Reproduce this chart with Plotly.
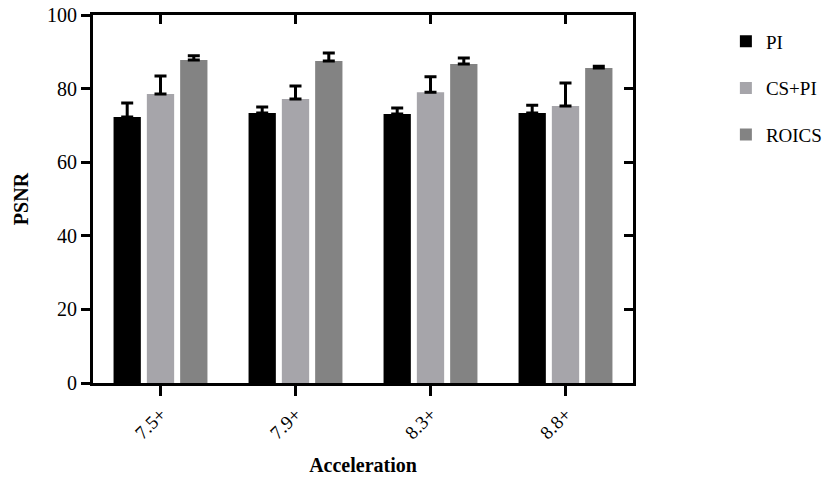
import plotly.graph_objects as go

categories = ["7.5+", "7.9+", "8.3+", "8.8+"]
series_names = ["PI", "CS+PI", "ROICS"]
pi_vals = [72.3, 73.4, 73.1, 73.4]
pi_err = [3.8, 1.6, 1.6, 2.1]
cspi_vals = [78.5, 77.2, 79.0, 75.3]
cspi_err = [4.9, 3.5, 4.2, 6.2]
roics_vals = [87.8, 87.5, 86.7, 85.6]
roics_err = [1.1, 2.2, 1.6, 0.5]
y_ticks = [0, 20, 40, 60, 80, 100]

colors = ["#000000", "#a6a5aa", "#838383"]
FONT = "Liberation Serif"

fig = go.Figure()
for name, vals, err, col in zip(series_names, [pi_vals, cspi_vals, roics_vals],
                                [pi_err, cspi_err, roics_err], colors):
    fig.add_trace(go.Bar(
        x=categories, y=vals, name=name, marker=dict(color=col, line=dict(width=0)),
        legendgroup=name,
        error_y=dict(type="data", array=err, arrayminus=[0] * len(err), symmetric=False,
                     color="black", thickness=3, width=6),
    ))

# invisible trace for the framing axes (top/right inside ticks)
fig.add_trace(go.Scatter(x=categories, y=pi_vals, xaxis="x2", yaxis="y2", mode="markers",
                         marker=dict(opacity=0), showlegend=False, hoverinfo="skip"))

fig.update_layout(
    width=827, height=485,
    margin=dict(l=93, r=194, t=15, b=102, autoexpand=False),
    paper_bgcolor="white", plot_bgcolor="white",
    barmode="group", bargap=0.26, bargroupgap=0.18,
    font=dict(family=FONT, color="black", size=19),
    showlegend=True,
    legend=dict(x=1.172, y=0.98, xanchor="left", yanchor="top",
                font=dict(family=FONT, size=19), tracegroupgap=19,
                bgcolor="rgba(0,0,0,0)"),
    xaxis=dict(type="category", range=[-0.5, 3.5], showline=True, linewidth=3, linecolor="black",
               ticks="outside", ticklen=10, tickwidth=3, tickcolor="black", tickangle=-45,
               tickfont=dict(family=FONT, size=19), showgrid=False, zeroline=False,
               automargin=False,
               title=dict(text="<b>Acceleration</b>", font=dict(family=FONT, size=20), standoff=16)),
    yaxis=dict(range=[0, 100], tickvals=y_ticks, showline=True, linewidth=3, linecolor="black",
               ticks="outside", ticklen=9, tickwidth=3, tickcolor="black",
               tickfont=dict(family=FONT, size=20), showgrid=False, zeroline=False,
               automargin=False,
               title=dict(text="<b>PSNR</b>", font=dict(family=FONT, size=20), standoff=14)),
    xaxis2=dict(type="category", range=[-0.5, 3.5], overlaying="x", side="top", showline=True,
                linewidth=3, linecolor="black", ticks="inside", ticklen=9, tickwidth=3,
                tickcolor="black", showticklabels=False, showgrid=False, zeroline=False,
                automargin=False),
    yaxis2=dict(range=[0, 100], tickvals=y_ticks, overlaying="y", side="right", showline=True,
                linewidth=3, linecolor="black", ticks="inside", ticklen=9, tickwidth=3,
                tickcolor="black", showticklabels=False, showgrid=False, zeroline=False,
                automargin=False),
)

fig.write_html("out.html", config={"displayModeBar": False},
               post_script="document.body.style.margin='0';")
